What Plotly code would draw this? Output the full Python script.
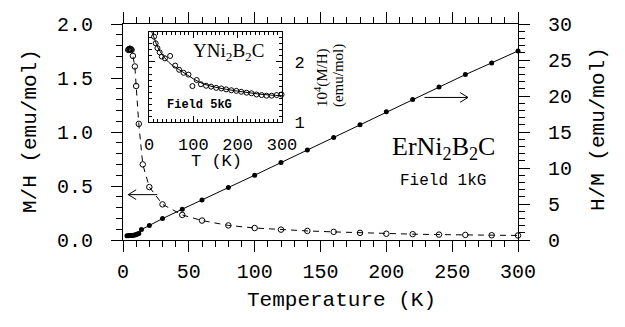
import plotly.graph_objects as go

# ---------------- data ----------------
# Main panel: M/H (left axis, open circles, dashed)
T_mh = [4, 4.5, 5, 5.5, 6, 6.5, 7.5, 9, 10, 12, 15, 20, 30, 45, 60, 80, 100, 120,
        140, 160, 180, 200, 220, 240, 260, 280, 300]
MH = [1.76, 1.765, 1.77, 1.77, 1.765, 1.76, 1.705, 1.607, 1.426, 1.075, 0.70, 0.49,
      0.33, 0.232, 0.18, 0.135, 0.111, 0.096, 0.084, 0.075, 0.066, 0.058, 0.054,
      0.050, 0.047, 0.044, 0.042]

# Main panel: H/M (right axis, filled circles, solid)
T_hm = [3, 4, 5, 6, 7, 8, 9, 10, 11, 12, 14, 20, 30, 45, 60, 80, 100, 120, 140, 160,
        180, 200, 220, 240, 260, 280, 300]
HM = [0.6, 0.6, 0.62, 0.63, 0.64, 0.66, 0.7, 0.77, 0.85, 0.92, 1.45, 2.03, 2.97, 4.28,
      5.55, 7.3, 9.0, 10.75, 12.5, 14.25, 16.0, 17.8, 19.5, 21.26, 22.97, 24.6, 26.26]

# Inset: YNi2B2C 10^4 M/H
T_in = [11.4, 15, 19, 24, 28.8, 36, 47.7, 59, 68, 78, 89, 98, 107.6, 117, 128.8, 140,
        151.5, 163, 174, 185.6, 197, 208, 220, 231, 242.5, 254, 265, 276.6, 288, 299]
V_in = [2.42, 2.31, 2.23, 2.16, 2.09, 2.06, 2.10, 1.94, 1.87, 1.82, 1.79, 1.60, 1.70,
        1.63, 1.605, 1.59, 1.57, 1.56, 1.545, 1.53, 1.52, 1.505, 1.49, 1.48, 1.46,
        1.45, 1.44, 1.44, 1.45, 1.46]
T_fit = [5, 10, 20, 30, 40, 50, 60, 75, 100, 125, 150, 175, 200, 225, 250, 275, 300]
V_fit = [2.52, 2.43, 2.24, 2.12, 2.03, 1.96, 1.91, 1.84, 1.72, 1.63, 1.58, 1.545,
         1.515, 1.49, 1.465, 1.45, 1.44]

x_ticks = [0, 50, 100, 150, 200, 250, 300]
yl_ticks = [0.0, 0.5, 1.0, 1.5, 2.0]
yr_ticks = [0, 5, 10, 15, 20, 25, 30]
xin_ticks = [0, 100, 200, 300]
yin_ticks = [1, 2]

# ---------------- layout geometry ----------------
W, H = 625, 327
L, R, T, B = 123, 107, 20, 87
pw, ph = W - L - R, H - T - B


def px_x(p):
    return (p - L) / pw


def px_y(p):
    return (H - B - p) / ph


MONO = "Liberation Mono"
SERIF = "Liberation Serif"
BLK = "black"

fig = go.Figure()

fig.add_trace(go.Scatter(
    x=T_mh, y=MH, mode="lines+markers", yaxis="y", xaxis="x",
    line=dict(color=BLK, width=1, dash="6px,5px"),
    marker=dict(symbol="circle-open", size=5.5, color=BLK, line=dict(width=1)),
    cliponaxis=False, showlegend=False))

fig.add_trace(go.Scatter(
    x=T_hm, y=HM, mode="lines+markers", yaxis="y2", xaxis="x",
    line=dict(color=BLK, width=1),
    marker=dict(symbol="circle", size=5, color=BLK),
    cliponaxis=False, showlegend=False))

fig.add_trace(go.Scatter(
    x=T_fit, y=V_fit, mode="lines", xaxis="x3", yaxis="y3",
    line=dict(color=BLK, width=1, shape="spline"), showlegend=False))

fig.add_trace(go.Scatter(
    x=T_in, y=V_in, mode="markers", xaxis="x3", yaxis="y3",
    marker=dict(symbol="circle-open", size=5, color=BLK, line=dict(width=1)),
    cliponaxis=False, showlegend=False))

tickfont = dict(family=MONO, size=20, color=BLK)

fig.update_layout(
    width=W, height=H,
    margin=dict(l=L, r=R, t=T, b=B),
    paper_bgcolor="white", plot_bgcolor="white",
    xaxis=dict(
        range=[0, 300], tickvals=x_ticks, ticks="outside", ticklen=11, tickwidth=1,
        tickcolor=BLK, showline=True, linecolor=BLK, linewidth=1, mirror="ticks",
        showgrid=False, zeroline=False, tickfont=tickfont, ticklabelstandoff=2,
        minor=dict(dtick=10, ticks="outside", ticklen=6, tickcolor=BLK, tickwidth=1),
    ),
    yaxis=dict(
        range=[0, 2.0], tickvals=yl_ticks, tickformat=".1f", ticks="outside",
        ticklen=11, tickwidth=1, tickcolor=BLK, showline=True, linecolor=BLK,
        linewidth=1, showgrid=False, zeroline=False, tickfont=tickfont,
        ticklabelstandoff=14,
        minor=dict(dtick=0.1, ticks="outside", ticklen=6, tickcolor=BLK, tickwidth=1),
    ),
    yaxis2=dict(
        range=[0, 30], tickvals=yr_ticks, overlaying="y", side="right", anchor="x",
        ticks="outside", ticklen=11, tickwidth=1, tickcolor=BLK, showline=True,
        linecolor=BLK, linewidth=1, showgrid=False, zeroline=False, tickfont=tickfont,
        ticklabelstandoff=14,
        minor=dict(dtick=1, ticks="outside", ticklen=6, tickcolor=BLK, tickwidth=1),
    ),
    xaxis3=dict(
        domain=[px_x(149), px_x(282)], anchor="y3", range=[0, 300], tickvals=xin_ticks,
        ticks="inside", ticklen=6, tickwidth=1, tickcolor=BLK, showline=True,
        linecolor=BLK, linewidth=1, mirror="ticks", showgrid=False, zeroline=False,
        tickfont=dict(family=MONO, size=17, color=BLK), ticklabelstandoff=6,
        minor=dict(dtick=10, ticks="inside", ticklen=3, tickcolor=BLK, tickwidth=1),
    ),
    yaxis3=dict(
        domain=[px_y(120), px_y(28)], anchor="x3", side="right", range=[1, 2.5],
        tickvals=yin_ticks, ticks="inside", ticklen=6, tickwidth=1, tickcolor=BLK,
        showline=True, linecolor=BLK, linewidth=1, mirror="ticks", showgrid=False,
        zeroline=False, tickfont=dict(family=MONO, size=17, color=BLK),
        ticklabelstandoff=8,
        minor=dict(dtick=0.1, ticks="inside", ticklen=3, tickcolor=BLK, tickwidth=1),
    ),
)

# white background for inset area
fig.add_shape(type="rect", xref="x3 domain", yref="y3 domain", x0=0, x1=1, y0=0, y1=1,
              fillcolor="white", line=dict(width=0), layer="below")

# arrows
fig.add_shape(type="path", xref="x", yref="y",
              path="M 26,0.42 L 4,0.42 M 10,0.465 L 4,0.42 L 10,0.375",
              line=dict(color=BLK, width=1))
fig.add_shape(type="path", xref="x", yref="y2",
              path="M 229,19.8 L 262,19.8 M 256,20.48 L 262,19.8 L 256,19.12",
              line=dict(color=BLK, width=1))


def label(text, x, y, family, size, angle=0):
    return dict(text=text, x=px_x(x), y=px_y(y), xref="paper", yref="paper",
                xanchor="center", yanchor="middle", textangle=angle, showarrow=False,
                font=dict(family=family, size=size, color=BLK))


ann = [
    label("M/H (emu/mol)", 30, 129, MONO, 21, -90),
    label("H/M (emu/mol)", 598, 127, MONO, 21, -90),
    label("Temperature (K)", 341, 302, MONO, 21),
    label("ErNi<sub>2</sub>B<sub>2</sub>C", 443, 146, SERIF, 26),
    label("Field 1kG", 443, 180, MONO, 16),
    label("YNi<sub>2</sub>B<sub>2</sub>C", 228, 49, SERIF, 19),
    label("<b>Field 5kG</b>", 199, 102, MONO, 12),
    label("T (K)", 216, 160, MONO, 17),
    label("10<sup>4</sup>(M/H)", 321, 75, SERIF, 15, -90),
    label("(emu/mol)", 338, 73, SERIF, 15, -90),
]
fig.update_layout(annotations=ann)

fig.write_html("out.html", config={"displayModeBar": False},
               post_script="document.body.style.margin='0px';")
